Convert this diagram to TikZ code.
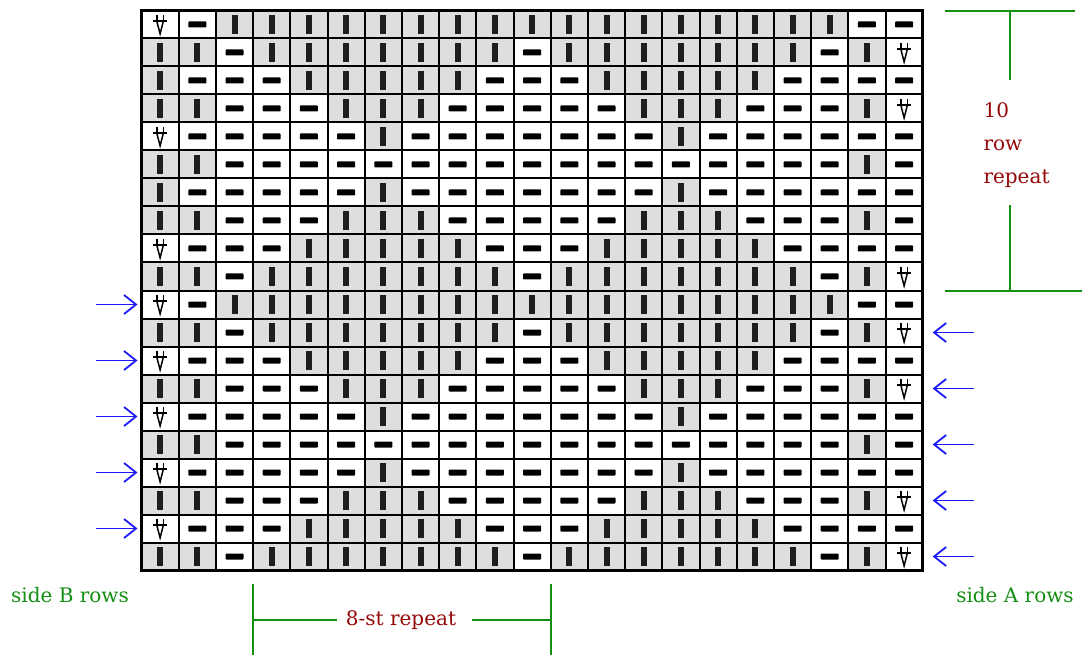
\documentclass[tikz,border=0pt]{standalone}
\usepackage{fontspec}
\setmainfont{DejaVu Serif}
\usetikzlibrary{arrows.meta,positioning,calc}
\definecolor{cellgray}{HTML}{DEDEDE}
\definecolor{barink}{HTML}{1E1E1E}
\definecolor{leafgreen}{HTML}{138F13}
\definecolor{maroon}{HTML}{950808}
\definecolor{rowblue}{HTML}{1A1AFF}

\begin{document}
\begin{tikzpicture}[x=1pt,y=-1pt,
    cell/.style={draw=black,line width=2pt,minimum width=37.2pt,minimum height=28pt,
                 inner sep=0pt,outer sep=0pt},
    st/.is choice,
    st/k/.style={fill=cellgray,path picture={
        \fill[barink] ([xshift=-3pt,yshift=-9.5pt]path picture bounding box.center)
          rectangle ++(6pt,19pt);}},
    st/p/.style={fill=white,path picture={
        \fill[black,rounded corners=0.8pt] ([xshift=-9pt,yshift=-3pt]path picture bounding box.center)
          rectangle ++(18pt,6pt);}},
    st/v/.style={fill=white,path picture={
        \begin{scope}[shift={(path picture bounding box.center)},xshift=1.5pt,
                      line width=1.5pt,draw=black]
          \draw (-7pt,3.4pt) -- (7pt,3.4pt);
          \draw (-3.3pt,3.4pt) -- (-3.3pt,9.4pt) (3.3pt,3.4pt) -- (3.3pt,9.4pt);
          \draw (-3.3pt,3.4pt) -- (0pt,-9.3pt) -- (3.3pt,3.4pt);
        \end{scope}}},
    sidearrow/.style={draw=rowblue,line width=1.8pt,-{Straight Barb[length=12pt,width=19pt]}},
    marker/.style={draw=leafgreen,line width=2pt},
    note/.style={text=maroon,font=\fontsize{20}{33}\selectfont},
    side/.style={text=leafgreen,font=\fontsize{20}{23}\selectfont}]

  \useasboundingbox (0,0) rectangle (1082,655);

  % chart, top row first
  \foreach \rowcodes [count=\j] in {
      {v,p,k,k,k,k,k,k,k,k,k,k,k,k,k,k,k,k,k,p,p},
      {k,k,p,k,k,k,k,k,k,k,p,k,k,k,k,k,k,k,p,k,v},
      {k,p,p,p,k,k,k,k,k,p,p,p,k,k,k,k,k,p,p,p,p},
      {k,k,p,p,p,k,k,k,p,p,p,p,p,k,k,k,p,p,p,k,v},
      {v,p,p,p,p,p,k,p,p,p,p,p,p,p,k,p,p,p,p,p,p},
      {k,k,p,p,p,p,p,p,p,p,p,p,p,p,p,p,p,p,p,k,p},
      {k,p,p,p,p,p,k,p,p,p,p,p,p,p,k,p,p,p,p,p,p},
      {k,k,p,p,p,k,k,k,p,p,p,p,p,k,k,k,p,p,p,k,p},
      {v,p,p,p,k,k,k,k,k,p,p,p,k,k,k,k,k,p,p,p,p},
      {k,k,p,k,k,k,k,k,k,k,p,k,k,k,k,k,k,k,p,k,v},
      {v,p,k,k,k,k,k,k,k,k,k,k,k,k,k,k,k,k,k,p,p},
      {k,k,p,k,k,k,k,k,k,k,p,k,k,k,k,k,k,k,p,k,v},
      {v,p,p,p,k,k,k,k,k,p,p,p,k,k,k,k,k,p,p,p,p},
      {k,k,p,p,p,k,k,k,p,p,p,p,p,k,k,k,p,p,p,k,v},
      {v,p,p,p,p,p,k,p,p,p,p,p,p,p,k,p,p,p,p,p,p},
      {k,k,p,p,p,p,p,p,p,p,p,p,p,p,p,p,p,p,p,k,p},
      {v,p,p,p,p,p,k,p,p,p,p,p,p,p,k,p,p,p,p,p,p},
      {k,k,p,p,p,k,k,k,p,p,p,p,p,k,k,k,p,p,p,k,v},
      {v,p,p,p,k,k,k,k,k,p,p,p,k,k,k,k,k,p,p,p,p},
      {k,k,p,k,k,k,k,k,k,k,p,k,k,k,k,k,k,k,p,k,v}} {
    \foreach \s [count=\i] in \rowcodes {
      \node[cell,st=\s] (c-\j-\i) at ({141.5+(\i-0.5)*37.2},{10.5+(\j-0.5)*28}) {};
    }
  }
  \draw[line width=2.8pt] (c-1-1.north west) rectangle (c-20-21.south east);

  % row arrows
  \foreach \r in {11,13,15,17,19} {
    \coordinate (bin-\r) at ([xshift=-46pt]c-\r-1.west);
    \draw[sidearrow,shorten >=4pt] (bin-\r) -- (c-\r-1.west);
  }
  \foreach \r in {12,14,16,18,20} {
    \coordinate (ain-\r) at ([xshift=51pt]c-\r-21.east);
    \draw[sidearrow,shorten >=10pt] (ain-\r) -- (c-\r-21.east);
  }
  \node[side] (sideB) at (70,595) {side B rows};
  \node[side] (sideA) at (1015,595) {side A rows};

  % 10 row repeat
  \node[note,anchor=west,align=left] (rowrep) at (980,145) {10\\row\\repeat};
  \coordinate (rrTL) at (945,11.5);
  \coordinate (rrTR) at (1075,11.5);
  \coordinate (rrBL) at (945,290.5);
  \coordinate (rrBR) at (1082,290.5);
  \coordinate (rrTop) at (1010,11.5);
  \coordinate (rrBot) at (1010,290.5);
  \draw[marker] (rrTL) -- (rrTR);
  \draw[marker] (rrBL) -- (rrBR);
  \draw[marker] (rrTop) -- (rrTop |- 0,80);
  \draw[marker] (rrBot) -- (rrBot |- 0,205);

  % 8-st repeat
  \node[note] (strep) at (401,620) {8-st repeat};
  \coordinate (stLtop) at ([yshift=-13pt]c-20-4.south west);
  \coordinate (stLbot) at (stLtop |- 0,655);
  \coordinate (stRtop) at ([yshift=-13pt]c-20-11.south east);
  \coordinate (stRbot) at (stRtop |- 0,655);
  \draw[marker] (stLtop) -- (stLbot);
  \draw[marker] (stRtop) -- (stRbot);
  \draw[marker,shorten >=5pt] (stLtop |- strep) -- (strep.west);
  \draw[marker,shorten >=12pt] (stRtop |- strep) -- (strep.east);
\end{tikzpicture}
\end{document}
